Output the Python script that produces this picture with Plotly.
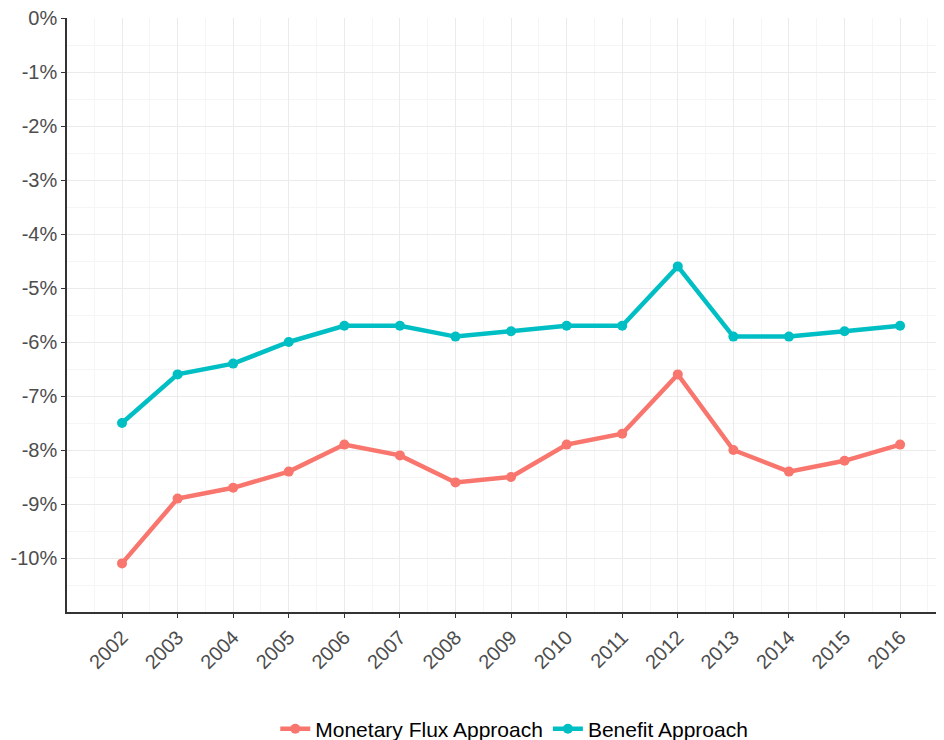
import plotly.graph_objects as go

years = list(range(2002, 2017))
monetary = [-10.1, -8.9, -8.7, -8.4, -7.9, -8.1, -8.6, -8.5, -7.9, -7.7, -6.6, -8.0, -8.4, -8.2, -7.9]
benefit = [-7.5, -6.6, -6.4, -6.0, -5.7, -5.7, -5.9, -5.8, -5.7, -5.7, -4.6, -5.9, -5.9, -5.8, -5.7]
y_ticks = [0, -1, -2, -3, -4, -5, -6, -7, -8, -9, -10]
y_labels = [f"{v}%" for v in y_ticks]

fig = go.Figure()
fig.add_trace(go.Scatter(x=years, y=monetary, mode="lines+markers", name="Monetary Flux Approach",
                         line=dict(color="#F8766D", width=4.5), marker=dict(size=10, color="#F8766D")))
fig.add_trace(go.Scatter(x=years, y=benefit, mode="lines+markers", name="Benefit Approach",
                         line=dict(color="#00BFC4", width=4.5), marker=dict(size=10, color="#00BFC4")))

fig.update_layout(
    width=936, height=732,
    margin=dict(l=59, r=0, t=10, b=128, autoexpand=False),
    plot_bgcolor="white", paper_bgcolor="white",
    font=dict(family="Liberation Sans, Arial, sans-serif", size=20, color="#4d4d4d"),
    legend=dict(orientation="h", x=0.51, xanchor="center", y=-0.197, yanchor="middle",
                font=dict(size=21, color="black"), itemwidth=30),
    showlegend=True,
)
fig.update_xaxes(
    range=[2001.01, 2016.79], tickvals=years, ticktext=[str(y) for y in years], tickangle=-45,
    automargin=False, ticklabeloverflow="allow",
    showgrid=True, gridcolor="#ebebeb", gridwidth=1,
    minor=dict(tick0=2001.5, dtick=1, showgrid=True, gridcolor="#f5f5f5", gridwidth=1),
    showline=True, linecolor="#333333", linewidth=1.5,
    ticks="outside", ticklen=4, tickcolor="#333333", zeroline=False,
    tickfont=dict(size=20, color="#4d4d4d"),
)
fig.update_yaxes(
    range=[-11, 0], tickvals=y_ticks, ticktext=y_labels,
    automargin=False, ticklabeloverflow="allow",
    showgrid=True, gridcolor="#ebebeb", gridwidth=1,
    minor=dict(tick0=-0.5, dtick=1, showgrid=True, gridcolor="#f5f5f5", gridwidth=1),
    showline=True, linecolor="#333333", linewidth=1.5,
    ticks="outside", ticklen=4, tickcolor="#333333", zeroline=False,
    tickfont=dict(size=20, color="#4d4d4d"),
)
fig.write_html("out.html")
